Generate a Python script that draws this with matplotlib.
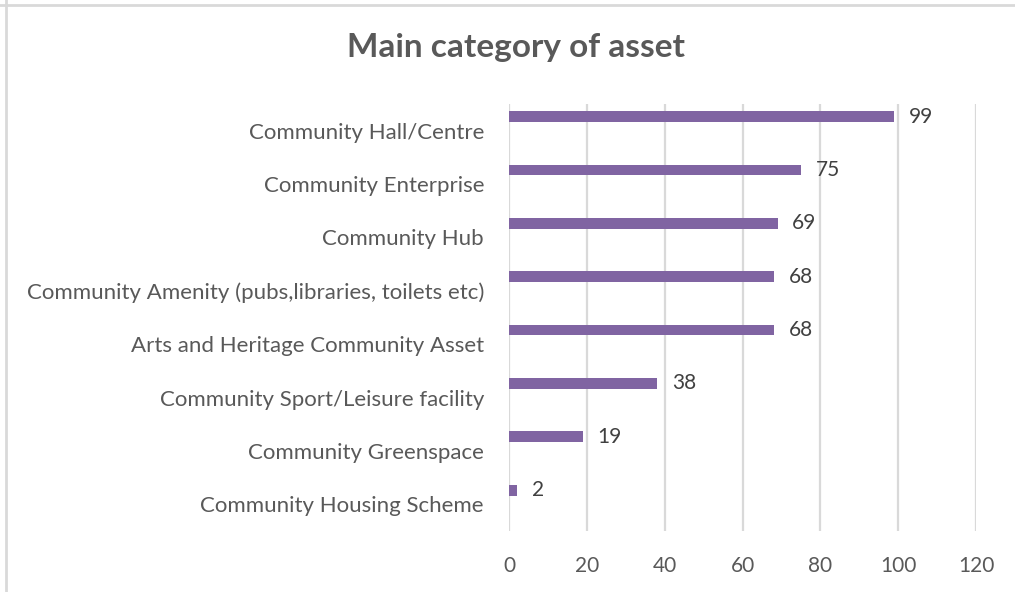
import matplotlib
matplotlib.use("Agg")
import matplotlib.pyplot as plt
from matplotlib.lines import Line2D
import numpy as np

categories = [
    "Community Hall/Centre",
    "Community Enterprise",
    "Community Hub",
    "Community Amenity (pubs,libraries, toilets etc)",
    "Arts and Heritage Community Asset",
    "Community Sport/Leisure facility",
    "Community Greenspace",
    "Community Housing Scheme",
]
counts = [99, 75, 69, 68, 68, 38, 19, 2]
x_ticks = [0, 20, 40, 60, 80, 100, 120]

BAR_COLOR = "#8064a2"
TEXT_COLOR = "#595959"
GRID_COLOR = "#d9d9d9"

plt.rcParams["font.family"] = ["Lato", "DejaVu Sans"]

fig = plt.figure(figsize=(10.15, 5.92), dpi=100)
ax = fig.add_axes([509 / 1015, 1 - 531 / 592, (976 - 509) / 1015, (531 - 104) / 592])

y = np.arange(len(categories))
bar_y = y - 0.265
ax.barh(bar_y, counts, height=0.2, color=BAR_COLOR, zorder=3)

for yy, v in zip(bar_y, counts):
    ax.text(v + 3.8, yy, f"{v}", va="center", ha="left",
            fontsize=15, color="#404040")

ax.set_xlim(0, 120)
ax.set_ylim(len(categories) - 0.5, -0.5)
ax.set_xticks(x_ticks)
ax.set_xticklabels([str(t) for t in x_ticks], fontsize=15, color=TEXT_COLOR)
ax.set_yticks(y)
ax.set_yticklabels(categories, fontsize=16, color=TEXT_COLOR)
ax.tick_params(axis="both", length=0)
ax.tick_params(axis="x", pad=18)
ax.tick_params(axis="y", pad=18)

ax.grid(axis="x", color=GRID_COLOR, linewidth=1.6, zorder=0)
for s in ax.spines.values():
    s.set_visible(False)

fig.text(516 / 1015, 1 - 47 / 592, "Main category of asset", ha="center",
         va="center", fontsize=24, fontweight="bold", color=TEXT_COLOR)

# chart area frame (top and left edges)
fig.add_artist(Line2D([0, 1], [1 - 5 / 592] * 2, color="#d9d9d9", linewidth=2))
fig.add_artist(Line2D([6 / 1015] * 2, [0, 1], color="#d9d9d9", linewidth=2))

fig.savefig("out.png", dpi=100)
